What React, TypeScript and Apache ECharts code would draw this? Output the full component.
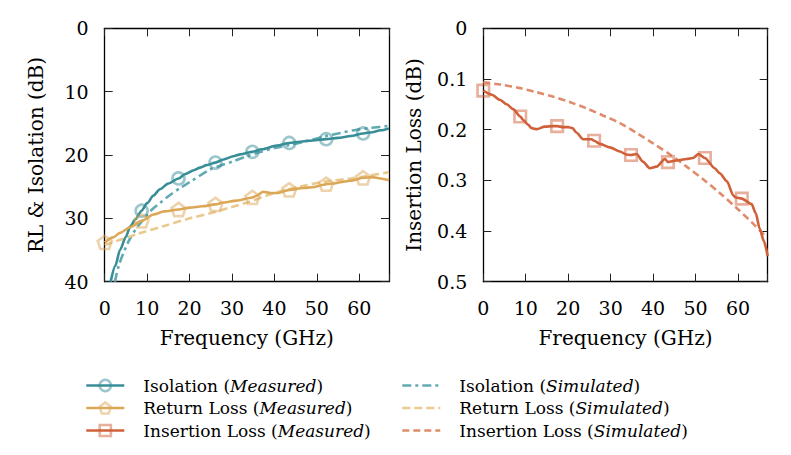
import React, { useEffect, useRef } from 'react';
import * as echarts from 'echarts';

// ---------- data ----------
const markerFreqs = [0, 8.7, 17.4, 26.1, 34.8, 43.5, 52.2, 60.9];

const isoMeasFreq = [1.4, 2.5, 3.6, 5, 6, 7.2, 8.7, 10, 11.5, 13, 15, 17.4, 19, 21, 22.5, 24, 26.1, 28, 30.3, 32, 34.8, 37, 40.6, 43.5, 46, 49, 52.2, 55, 58, 60.9, 63, 65, 67];
const isoMeasVal = [40, 37.5, 35, 32.9, 31.3, 30.2, 28.8, 27.6, 26.4, 25.4, 24.5, 23.7, 23, 22.4, 22, 21.6, 21.2, 20.7, 20.2, 19.9, 19.5, 19.1, 18.5, 18.1, 17.9, 17.7, 17.5, 17.3, 17.0, 16.6, 16.4, 16.1, 15.8];

const isoSimFreq = [2.4, 3.3, 4.4, 5.5, 6.75, 8, 9.1, 11, 13, 15, 17.8, 20, 24.8, 28, 30.3, 33.5, 35.8, 40, 43.7, 47, 51.6, 55, 59.4, 63, 67];
const isoSimVal = [40, 37.5, 35.5, 33.8, 32.3, 31.1, 30.2, 28.7, 27.6, 26.5, 25.2, 24.3, 22.3, 21.5, 21.0, 20.2, 19.7, 18.9, 18.4, 17.9, 17.1, 16.6, 16.0, 15.7, 15.4];

const rlMeasFreq = [0, 2, 3.6, 6, 8.7, 11.5, 14, 17.4, 20.1, 23, 26.1, 28, 31.1, 34.8, 35.5, 37.4, 39, 40.6, 43.5, 46.8, 49, 51.6, 52.2, 54, 56.3, 58.5, 60.9, 63, 65, 67];
const rlMeasVal = [33.8, 33.0, 32.3, 31.4, 30.4, 29.4, 28.9, 28.6, 28.3, 28.1, 27.8, 27.5, 27.2, 26.7, 26.5, 25.8, 26.0, 26.0, 25.5, 25.2, 25.1, 24.7, 24.6, 24.5, 24.2, 24.0, 23.6, 23.5, 23.7, 24.0];

const rlSimFreq = [0, 4, 8, 14, 20, 26, 30, 34, 40, 46, 52, 58, 62, 67];
const rlSimVal = [34.2, 33.3, 32.4, 31.2, 30.0, 29.0, 28.2, 27.4, 26.0, 25.0, 24.2, 23.7, 23.3, 22.7];

const ilMeasFreq = [0, 2, 3.9, 5.5, 7.1, 8.7, 9.4, 10.5, 11.4, 12.6, 14.5, 16.5, 17.4, 18.8, 20, 21, 22, 23.5, 25.5, 26.1, 27.5, 29.8, 32.2, 33.7, 34.8, 36.1, 37.6, 39.2, 40.8, 42.8, 43.5, 45.5, 47.9, 49.4, 50.7, 52.2, 54.5, 55.7, 57.4, 58.9, 59.5, 60.9, 63.2, 64.2, 65.1, 66.1, 67];
const ilMeasVal = [0.123, 0.131, 0.141, 0.150, 0.160, 0.174, 0.181, 0.190, 0.197, 0.199, 0.194, 0.193, 0.193, 0.195, 0.195, 0.197, 0.206, 0.219, 0.219, 0.222, 0.228, 0.235, 0.243, 0.249, 0.250, 0.248, 0.263, 0.276, 0.273, 0.258, 0.264, 0.261, 0.258, 0.256, 0.248, 0.256, 0.276, 0.286, 0.302, 0.330, 0.334, 0.336, 0.347, 0.365, 0.395, 0.420, 0.450];

const ilSimFreq = [0, 4, 8.6, 12.5, 16.5, 20.5, 24.3, 28.2, 32.2, 36, 40, 44, 47.9, 51.8, 55.7, 59.6, 63.5, 66.7];
const ilSimVal = [0.1065, 0.111, 0.118, 0.126, 0.135, 0.146, 0.158, 0.172, 0.187, 0.206, 0.227, 0.249, 0.273, 0.298, 0.325, 0.354, 0.385, 0.412];

const xTicks = [0, 10, 20, 30, 40, 50, 60];

// ---------- style ----------
const FONT = 'DejaVu Serif';
const TEAL = '#388e97';
const TEAL_SIM = '#62aab2';
const TEAL_MK = 'rgba(56,142,151,0.5)';
const GOLD = '#dca858';
const GOLD_SIM = '#eac98f';
const GOLD_MK = 'rgba(220,168,88,0.5)';
const RED = '#d0603a';
const RED_SIM = '#e08c6c';
const RED_MK = 'rgba(208,96,58,0.5)';
const PENTAGON = 'path://M0,-1 L0.951,-0.309 L0.588,0.809 L-0.588,0.809 L-0.951,-0.309 Z';

const ISO_SIM_DASH = [9, 4, 3, 4];
const RL_SIM_DASH = [8, 4];
const IL_SIM_DASH = [7, 4];

function pts(freqs: number[], vals: number[], marked: boolean) {
  return freqs.map((f, i) =>
    marked && markerFreqs.indexOf(f) >= 0 ? [f, vals[i]] : { value: [f, vals[i]], symbol: 'none' }
  );
}

export default function App() {
  const ref = useRef<HTMLDivElement>(null);
  useEffect(() => {
    if (!ref.current) return;
    const chart = echarts.init(ref.current, null, { renderer: 'svg' });
    const G0 = { left: 104.7, top: 28.3, width: 284.3, height: 253.4 };
    const G1 = { left: 483.3, top: 28.3, width: 284.4, height: 253.4 };
    const axisLine = { show: true, onZero: false, lineStyle: { color: '#000', width: 1.3 } };
    const tick = { show: true, inside: true, length: 8, lineStyle: { color: '#222', width: 1 } };
    const labelStyle = { fontFamily: FONT, fontSize: 19, color: '#000' };
    const nameStyle = { fontFamily: FONT, fontSize: 20, color: '#000' };
    const xFmt = (v: number) => (xTicks.indexOf(v) >= 0 ? String(v) : '');
    const xBase = (grid: number, pos: string, show: boolean) => ({
      type: 'value', gridIndex: grid, position: pos, min: 0, max: 67, interval: 10,
      axisLine, axisTick: tick, splitLine: { show: false },
      axisLabel: { show, formatter: xFmt, margin: 17, ...labelStyle },
      name: show ? 'Frequency (GHz)' : '', nameLocation: 'middle', nameGap: 46, nameTextStyle: nameStyle,
    });
    const y0 = (pos: string, show: boolean) => ({
      type: 'value', gridIndex: 0, position: pos, min: 0, max: 40, interval: 10, inverse: true,
      axisLine, axisTick: tick, splitLine: { show: false },
      axisLabel: { show, margin: 16, ...labelStyle },
      name: show ? 'RL & Isolation (dB)' : '', nameLocation: 'middle', nameGap: 59, nameTextStyle: nameStyle,
    });
    const y1 = (pos: string, show: boolean) => ({
      type: 'value', gridIndex: 1, position: pos, min: 0, max: 0.5, interval: 0.1, inverse: true,
      axisLine, axisTick: tick, splitLine: { show: false },
      axisLabel: { show, margin: 16, ...labelStyle, formatter: (v: number) => (v === 0 ? '0' : v.toFixed(1)) },
      name: show ? 'Insertion Loss (dB)' : '', nameLocation: 'middle', nameGap: 59, nameTextStyle: nameStyle,
    });

    const measured = (name: string, fx: number[], fy: number[], xi: number, yi: number, color: string, mk: string, symbol: string, size: any) => ({
      type: 'line', name, xAxisIndex: xi, yAxisIndex: yi, data: pts(fx, fy, true),
      symbol, symbolSize: size, showSymbol: true, smooth: 0.25, smoothMonotone: 'x',
      lineStyle: { color, width: 2.6 },
      itemStyle: { color: 'rgba(255,255,255,0)', borderColor: mk, borderWidth: 2.6 },
      emphasis: { disabled: true }, z: 3,
    });
    const simulated = (name: string, fx: number[], fy: number[], xi: number, yi: number, color: string, dash: number[]) => ({
      type: 'line', name, xAxisIndex: xi, yAxisIndex: yi, data: pts(fx, fy, false),
      symbol: 'circle', showSymbol: false, smooth: 0.3,
      lineStyle: { color, width: 2.6, type: dash },
      itemStyle: { color: 'rgba(0,0,0,0)', borderColor: 'rgba(0,0,0,0)', borderWidth: 0 },
      emphasis: { disabled: true }, z: 2,
    });

    const richFmt = (name: string) => name.replace(/\((\w+)\)/, '({it|$1})');
    const legendText = {
      fontFamily: FONT, fontSize: 17, color: '#000', padding: [0, 0, 0, 14],
      rich: { it: { fontFamily: FONT, fontSize: 17, fontStyle: 'italic', color: '#000' } },
    };
    const mItem = (name: string, color: string, mk: string) => ({
      name,
      itemStyle: { color: 'rgba(255,255,255,0)', borderColor: mk, borderWidth: 2.5 },
      lineStyle: { color, width: 2.6 },
    });
    const sItem = (name: string, color: string, dash: number[]) => ({
      name,
      itemStyle: { color: 'rgba(0,0,0,0)', borderColor: 'rgba(0,0,0,0)', borderWidth: 0 },
      lineStyle: { color, width: 2.6, type: dash },
    });

    chart.setOption({
      animation: false,
      backgroundColor: '#fff',
      grid: [G0, G1],
      xAxis: [xBase(0, 'bottom', true), xBase(0, 'top', false), xBase(1, 'bottom', true), xBase(1, 'top', false)],
      yAxis: [y0('left', true), y0('right', false), y1('left', true), y1('right', false)],
      legend: [
        {
          orient: 'vertical', left: 80, top: 372, height: 120, width: 300, itemWidth: 38, itemHeight: 14, itemGap: 5.5,
          selectedMode: false, formatter: richFmt, textStyle: legendText,
          data: [
            mItem('Isolation (Measured)', TEAL, TEAL_MK),
            mItem('Return Loss (Measured)', GOLD, GOLD_MK),
            mItem('Insertion Loss (Measured)', RED, RED_MK),
          ],
        },
        {
          orient: 'vertical', left: 396, top: 372, height: 120, width: 380, itemWidth: 38, itemHeight: 14, itemGap: 5.5,
          selectedMode: false, formatter: richFmt, textStyle: legendText,
          data: [
            sItem('Isolation (Simulated)', TEAL_SIM, ISO_SIM_DASH),
            sItem('Return Loss (Simulated)', GOLD_SIM, RL_SIM_DASH),
            sItem('Insertion Loss (Simulated)', RED_SIM, IL_SIM_DASH),
          ],
        },
      ],
      series: [
        simulated('Isolation (Simulated)', isoSimFreq, isoSimVal, 0, 0, TEAL_SIM, ISO_SIM_DASH),
        simulated('Return Loss (Simulated)', rlSimFreq, rlSimVal, 0, 0, GOLD_SIM, RL_SIM_DASH),
        simulated('Insertion Loss (Simulated)', ilSimFreq, ilSimVal, 2, 2, RED_SIM, IL_SIM_DASH),
        measured('Isolation (Measured)', isoMeasFreq, isoMeasVal, 0, 0, TEAL, TEAL_MK, 'circle', 12),
        measured('Return Loss (Measured)', rlMeasFreq, rlMeasVal, 0, 0, GOLD, GOLD_MK, PENTAGON, [14, 13.3]),
        measured('Insertion Loss (Measured)', ilMeasFreq, ilMeasVal, 2, 2, RED, RED_MK, 'rect', 11.5),
      ],
    });
    return () => chart.dispose();
  }, []);
  return (
    <div
      ref={ref}
      style={{ position: 'fixed', left: 0, top: 0, width: 791, height: 455, background: '#fff' }}
    />
  );
}
